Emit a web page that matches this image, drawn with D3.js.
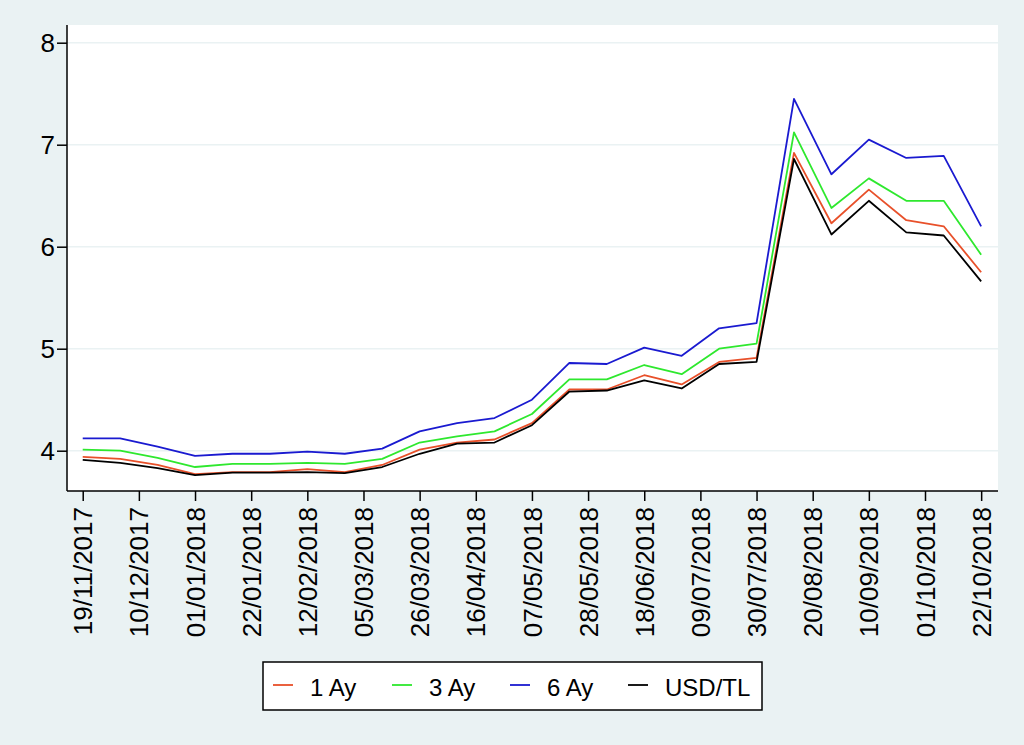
<!DOCTYPE html>
<html>
<head>
<meta charset="utf-8">
<script src="https://cdn.jsdelivr.net/npm/d3@7"></script>
<style>
  body { margin: 0; background: #eaf2f3; }
  svg { display: block; font-family: "Liberation Sans", Arial, sans-serif; }
</style>
</head>
<body>
<svg width="1024" height="745"></svg>
<script>
// biweekly observations, 19/11/2017 .. 22/10/2018 (x = week number)
var weeks = [0, 2, 4, 6, 8, 10, 12, 14, 16, 18, 20, 22, 24, 26, 28, 30, 32, 34, 36, 38, 40, 42, 44, 46, 48];

var ay1 = [3.94, 3.92, 3.86, 3.77, 3.79, 3.79, 3.82, 3.79, 3.86, 4.01, 4.08, 4.11, 4.27, 4.60, 4.60, 4.74, 4.65, 4.87, 4.91, 6.92, 6.23, 6.56, 6.26, 6.20, 5.75];
var ay3 = [4.01, 4.00, 3.93, 3.84, 3.87, 3.87, 3.88, 3.87, 3.92, 4.08, 4.14, 4.19, 4.36, 4.70, 4.70, 4.84, 4.75, 5.00, 5.05, 7.12, 6.38, 6.67, 6.45, 6.45, 5.92];
var ay6 = [4.12, 4.12, 4.04, 3.95, 3.97, 3.97, 3.99, 3.97, 4.02, 4.19, 4.27, 4.32, 4.50, 4.86, 4.85, 5.01, 4.93, 5.20, 5.25, 7.45, 6.71, 7.05, 6.87, 6.89, 6.20];
var usdtl = [3.91, 3.88, 3.83, 3.76, 3.785, 3.785, 3.79, 3.78, 3.84, 3.97, 4.07, 4.08, 4.25, 4.58, 4.59, 4.69, 4.61, 4.85, 4.87, 6.86, 6.12, 6.45, 6.14, 6.11, 5.66];

var tickWeeks = [0, 3, 6, 9, 12, 15, 18, 21, 24, 27, 30, 33, 36, 39, 42, 45, 48];
var tickLabels = ["19/11/2017", "10/12/2017", "01/01/2018", "22/01/2018", "12/02/2018", "05/03/2018",
  "26/03/2018", "16/04/2018", "07/05/2018", "28/05/2018", "18/06/2018", "09/07/2018",
  "30/07/2018", "20/08/2018", "10/09/2018", "01/10/2018", "22/10/2018"];
var yTicks = [4, 5, 6, 7, 8];

var seriesNames = ["1 Ay", "3 Ay", "6 Ay", "USD/TL"];
var seriesColors = ["#e8502a", "#2ee82e", "#1a1ad0", "#000000"];

var svg = d3.select("svg");
var pLeft = 67, pRight = 998, pTop = 25, pBottom = 491;

var x = d3.scaleLinear().domain([-0.84, 48.9]).range([pLeft, pRight]);
var y = d3.scaleLinear().domain([4, 8]).range([450.7, 42.7]);

svg.append("rect")
  .attr("x", pLeft).attr("y", pTop)
  .attr("width", pRight - pLeft).attr("height", pBottom - pTop)
  .attr("fill", "#fff");

// grid
svg.append("g").selectAll("line")
  .data(yTicks)
  .enter().append("line")
  .attr("x1", pLeft).attr("x2", pRight)
  .attr("y1", function(d) { return y(d); })
  .attr("y2", function(d) { return y(d); })
  .attr("stroke", "#eaf2f3")
  .attr("stroke-width", 1.5);

// lines
var all = [ay1, ay3, ay6, usdtl];
var line = d3.line()
  .x(function(d, i) { return x(weeks[i]); })
  .y(function(d) { return y(d); });

[2, 1, 0, 3].forEach(function(k) {
  svg.append("path")
    .datum(all[k])
    .attr("d", line)
    .attr("fill", "none")
    .attr("stroke", seriesColors[k])
    .attr("stroke-width", 1.8)
    .attr("stroke-linejoin", "round");
});

// y axis
var yAxis = d3.axisLeft(y).tickValues(yTicks).tickSize(10).tickPadding(2).tickFormat(d3.format("d"));
var gy = svg.append("g").attr("transform", "translate(" + pLeft + ",0)").call(yAxis);
gy.attr("font-size", null).attr("font-family", null);
gy.select(".domain").attr("d", "M0," + pTop + "V" + pBottom).attr("stroke-width", 1.5);
gy.selectAll(".tick line").attr("stroke-width", 1.5);
gy.selectAll("text").attr("font-size", 26).attr("fill", "#000");

// x axis
var xAxis = d3.axisBottom(x).tickValues(tickWeeks).tickSize(10)
  .tickFormat(function(d, i) { return tickLabels[i]; });
var gx = svg.append("g").attr("transform", "translate(0," + pBottom + ")").call(xAxis);
gx.attr("font-size", null).attr("font-family", null);
gx.select(".domain").attr("d", "M" + pLeft + ",0H" + pRight).attr("stroke-width", 1.5);
gx.selectAll(".tick line").attr("stroke-width", 1.5);
gx.selectAll("text")
  .attr("font-size", 26).attr("fill", "#000")
  .attr("transform", "rotate(-90)")
  .attr("text-anchor", "end")
  .attr("x", -16).attr("y", 0).attr("dy", "0.35em");

// legend
var lg = svg.append("g");
lg.append("rect")
  .attr("x", 263).attr("y", 662)
  .attr("width", 499).attr("height", 48)
  .attr("fill", "#fff").attr("stroke", "#000").attr("stroke-width", 1.5);

var legX = [273, 392, 510, 628];
seriesNames.forEach(function(n, i) {
  lg.append("line")
    .attr("x1", legX[i]).attr("x2", legX[i] + 20)
    .attr("y1", 685).attr("y2", 685)
    .attr("stroke", seriesColors[i]).attr("stroke-width", 1.8);
  lg.append("text")
    .attr("x", legX[i] + 37).attr("y", 696)
    .attr("font-size", 24)
    .text(n);
});
</script>
</body>
</html>
